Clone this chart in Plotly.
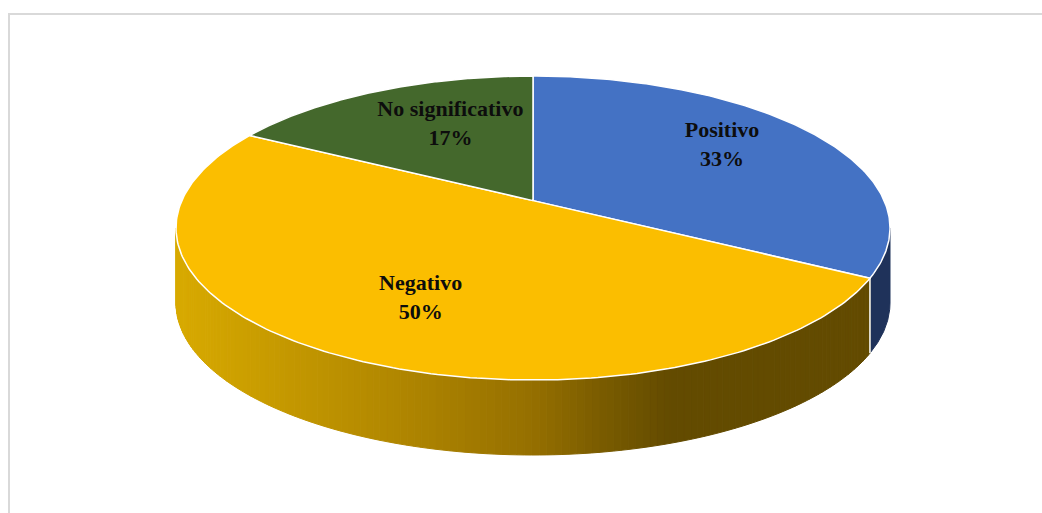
import numpy as np
import plotly.graph_objects as go

# ---- data -------------------------------------------------------------
categories = ["Positivo", "Negativo", "No significativo"]
percentages = [33, 50, 17]
top_colors = ["#4472C4", "#FBBE00", "#44682C"]
side_colors = ["rgb(31,50,90)", None, "rgb(40,62,26)"]   # None -> shaded gradient

# ---- 3-D pie geometry (pixel space) -----------------------------------
CX, CY = 533, 228        # centre of the top ellipse
RX, RY = 357, 152        # semi-axes of the top ellipse
K = 0.18                 # perspective strength (far side compressed)
DEPTH = 75               # thickness of the pie
LABEL_R = 0.63
LABEL_NUDGE = [(9, -10), (6, 8), (20, -3)]   # fine placement of the data labels

# gradient stops for the shaded side wall (screen x -> rgb)
SHADE_X = [176, 400, 530, 600, 670, 1000]
SHADE_RGB = [(216, 170, 0), (176, 134, 0), (150, 112, 0), (122, 92, 0),
             (99, 75, 0), (99, 75, 0)]


def project(theta, r=1.0):
    """Map an angle (clockwise from the far side) on the pie disc to screen."""
    theta = np.asarray(theta, dtype=float)
    x = r * np.sin(theta)
    z = r * np.cos(theta)
    s = 1 + K * z
    u = np.sqrt(1 - K * K) * x / s
    v = (1 - K * K) * (-z / s) - K
    return CX + RX * u, CY + RY * v


def shade(xpix):
    rgb = [np.interp(xpix, SHADE_X, [c[i] for c in SHADE_RGB]) for i in range(3)]
    return "rgb(%d,%d,%d)" % tuple(int(round(c)) for c in rgb)


total = float(sum(percentages))
bounds = np.concatenate([[0], np.cumsum(percentages) / total]) * 2 * np.pi
theta_edge = np.arccos(-K)           # where the rim turns from back to front
front_lo, front_hi = theta_edge, 2 * np.pi - theta_edge

fig = go.Figure()

# ---- side walls --------------------------------------------------------
for i, cat in enumerate(categories):
    a0, a1 = max(bounds[i], front_lo), min(bounds[i + 1], front_hi)
    if a1 <= a0:
        continue
    if side_colors[i] is None:
        n = max(2, int((a1 - a0) / np.radians(1.0)))
        edges = np.linspace(a0, a1, n + 1)
        for j in range(n):
            t = np.linspace(edges[j], edges[j + 1], 4)
            xs, ys = project(t)
            px = np.concatenate([xs, xs[::-1], xs[:1]])
            py = np.concatenate([ys, ys[::-1] + DEPTH, ys[:1]])
            col = shade(xs.mean())
            fig.add_trace(go.Scatter(x=px, y=py, mode="lines", fill="toself",
                                     fillcolor=col, line=dict(color=col, width=1),
                                     hoverinfo="skip", showlegend=False))
    else:
        t = np.linspace(a0, a1, 60)
        xs, ys = project(t)
        px = np.concatenate([xs, xs[::-1], xs[:1]])
        py = np.concatenate([ys, ys[::-1] + DEPTH, ys[:1]])
        fig.add_trace(go.Scatter(x=px, y=py, mode="lines", fill="toself",
                                 fillcolor=side_colors[i],
                                 line=dict(color=side_colors[i], width=1),
                                 hoverinfo="skip", showlegend=False))

# white seams on the side wall at slice boundaries
for b in bounds:
    bb = b % (2 * np.pi)
    if front_lo < bb < front_hi:
        x0, y0 = project(bb)
        fig.add_trace(go.Scatter(x=[x0, x0], y=[y0, y0 + DEPTH], mode="lines",
                                 line=dict(color="white", width=1.5),
                                 hoverinfo="skip", showlegend=False))

# ---- top face slices ---------------------------------------------------
cx0, cy0 = project(0.0, r=0.0)
for i, cat in enumerate(categories):
    t = np.linspace(bounds[i], bounds[i + 1], 200)
    xs, ys = project(t)
    px = np.concatenate([[cx0], xs, [cx0]])
    py = np.concatenate([[cy0], ys, [cy0]])
    fig.add_trace(go.Scatter(x=px, y=py, mode="lines", fill="toself",
                             fillcolor=top_colors[i],
                             line=dict(color="white", width=1.5),
                             hoverinfo="skip", showlegend=False))

# ---- data labels -------------------------------------------------------
mids = (bounds[:-1] + bounds[1:]) / 2
lx, ly = project(mids, r=LABEL_R)
lx = lx + np.array([d[0] for d in LABEL_NUDGE])
ly = ly + np.array([d[1] for d in LABEL_NUDGE])
fig.add_trace(go.Scatter(
    x=lx, y=ly, mode="text",
    text=["<b>%s<br>%d%%</b>" % (c, p) for c, p in zip(categories, percentages)],
    textposition="middle center",
    textfont=dict(family="Liberation Serif, Times New Roman, serif",
                  size=22, color="#0d0d0d"),
    hoverinfo="skip", showlegend=False))

# chart-area frame
fig.add_shape(type="rect", x0=9, y0=14, x1=1070, y1=540,
              line=dict(color="#d9d9d9", width=2), layer="below")

fig.update_layout(
    width=1042, height=513,
    margin=dict(l=0, r=0, t=0, b=0),
    paper_bgcolor="white", plot_bgcolor="white",
    xaxis=dict(range=[0, 1042], visible=False, fixedrange=True),
    yaxis=dict(range=[513, 0], visible=False, fixedrange=True),
    showlegend=False,
)

fig.write_html("out.html")
